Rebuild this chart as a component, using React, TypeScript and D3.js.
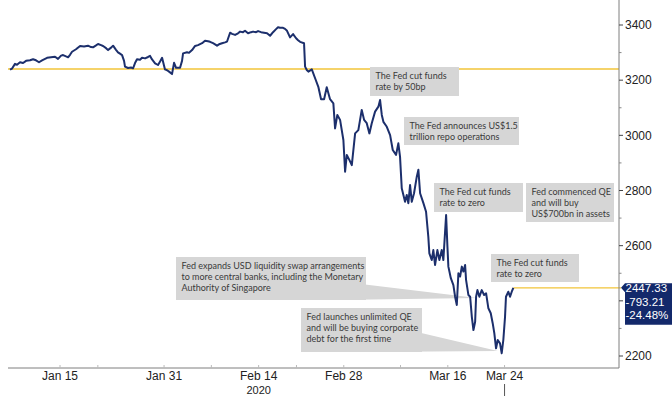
import React from 'react';
import * as d3 from 'd3';

// S&P 500 intraday path, Jan 8 – Mar 24 2020 (session index = trading day counted from Jan 8)
const sessionIdx = [
  -0.29, -0.07, 0.24, 0.45, 0.77, 1.09, 1.41, 1.83, 2.15, 2.46, 2.78, 3.10, 3.63, 4.05, 4.47, 4.79,
  5.11, 5.32, 5.64, 5.85, 6.06, 6.27, 6.69, 7.12, 7.54, 7.96, 8.28, 8.49, 8.81, 9.02, 9.34, 9.55,
  9.87, 10.08, 10.40, 10.61, 10.92, 11.13, 11.34, 11.56, 11.77, 11.87, 12.19, 12.51, 12.72, 12.93,
  13.14, 13.46, 13.67, 13.99, 14.31, 14.52, 14.73, 15.05, 15.36, 15.58, 15.79, 16.00, 16.10, 16.32,
  16.53, 16.84, 17.06, 17.27, 17.69, 17.90, 18.01, 18.43, 18.64, 18.96, 19.28, 19.59, 20.02, 20.33,
  20.65, 20.86, 21.18, 21.39, 21.60, 21.81, 22.13, 22.45, 22.66, 22.98, 23.19, 23.51, 23.82, 24.04,
  24.35, 24.56, 24.88, 25.20, 25.41, 25.73, 25.94, 26.26, 26.57, 26.89, 27.21, 27.52, 27.84, 28.05,
  28.26, 28.58, 28.79, 29.00, 29.32, 29.64, 29.96, 30.17, 30.38, 30.80, 30.91, 31.09, 31.26, 31.62,
  31.97, 32.31, 32.60, 32.92, 33.20, 33.55, 33.90, 34.08, 34.32, 34.61, 34.96, 35.14, 35.32, 35.59,
  35.85, 36.20, 36.54, 36.90, 37.15, 37.43, 37.71, 37.96, 38.31, 38.66, 38.84, 39.02, 39.19, 39.55,
  39.90, 40.18, 40.53, 40.77, 40.95, 41.13, 41.48, 41.66, 41.83, 42.01, 42.19, 42.43, 42.72, 42.89,
  43.07, 43.42, 43.70, 43.94, 44.05, 44.30, 44.47, 44.65, 44.90, 45.11, 45.36, 45.53, 45.82, 45.96,
  46.06, 46.32, 46.59, 46.77, 46.95, 47.12, 47.30, 47.48, 47.65, 47.83, 47.93, 48.18, 48.36, 48.54,
  48.71, 48.89, 48.99, 49.13, 49.34, 49.59, 49.84, 50.05, 50.29, 50.54, 50.75, 50.92, 51.10, 51.28,
  51.52, 51.70, 51.87, 52.05, 52.15, 52.40, 52.58, 52.76, 52.93,
];

const spx = [
  3238, 3242, 3259, 3256, 3265, 3262, 3270, 3272, 3276, 3272, 3265, 3272, 3281, 3283, 3285, 3277,
  3289, 3291, 3286, 3283, 3292, 3303, 3312, 3324, 3322, 3325, 3320, 3319, 3326, 3331, 3327, 3324,
  3316, 3309, 3318, 3325, 3310, 3301, 3296, 3291, 3270, 3249, 3244, 3246, 3243, 3262,
  3276, 3274, 3281, 3279, 3284, 3288, 3275, 3261, 3255, 3268, 3281, 3252, 3239, 3236,
  3231, 3222, 3263, 3245, 3245, 3270, 3297, 3301, 3299, 3309, 3324, 3327, 3334, 3343,
  3341, 3339, 3334, 3330, 3325, 3330, 3334, 3337, 3340, 3372, 3368, 3364, 3370, 3376,
  3374, 3379, 3370, 3374, 3376, 3374, 3378, 3374, 3372, 3370, 3361, 3374, 3385, 3392,
  3390, 3390, 3386, 3379, 3355, 3367, 3352, 3345, 3339, 3334, 3249, 3237, 3231, 3239,
  3207, 3176, 3131, 3131, 3174, 3131, 3116, 3025, 3074, 3056, 2983, 2868, 2929, 2911,
  2892, 3007, 3019, 3092, 3056, 3044, 3007, 3044, 3086, 3104, 3128, 3074, 3049, 3031,
  3001, 2947, 2929, 2971, 2922, 2808, 2759, 2784, 2754, 2820, 2759, 2790, 2850, 2875,
  2790, 2754, 2723, 2632, 2572, 2548, 2584, 2530, 2584, 2548, 2584, 2548, 2711, 2597,
  2524, 2482, 2457, 2415, 2385, 2500, 2488, 2524, 2506, 2530, 2476, 2421, 2415, 2342,
  2294, 2324, 2415, 2439, 2415, 2439, 2421, 2427, 2373, 2355, 2318, 2282, 2228, 2258,
  2246, 2210, 2258, 2342, 2415, 2433, 2415, 2433, 2447.33,
];

const baseLevel = 3240.54;
const lastClose = 2447.33;
const netChange = -793.21;
const pctChange = -24.48;

const yTicks = [2200, 2400, 2600, 2800, 3000, 3200, 3400];
const yMinorTicks = [2300, 2500, 2700, 2900, 3100, 3300];

const xTickDays = [5, 9, 16, 21, 26, 30, 35, 41, 46, 52];
const xLabelDays = [5, 16, 26, 35, 46, 52];
const xLabels = ['Jan 15', 'Jan 31', 'Feb 14', 'Feb 28', 'Mar 16', 'Mar 24'];
const yearLabel = '2020';
const yearLabelDay = 26;
const cursorDay = 52;

type Note = {
  lines: string[];
  x: number; y: number; w: number; h: number;
  pointer?: { t: number; v: number; bx: number; by0: number; by1: number };
};

const notes: Note[] = [
  { lines: ['The Fed cut funds', 'rate by 50bp'], x: 370, y: 67, w: 89, h: 29 },
  { lines: ['The Fed announces US$1.5', 'trillion repo operations'], x: 404, y: 117, w: 115, h: 28 },
  { lines: ['The Fed cut funds', 'rate to zero'], x: 434, y: 183, w: 89, h: 29 },
  { lines: ['Fed commenced QE', 'and will buy', 'US$700bn in assets'], x: 526, y: 183, w: 88, h: 39 },
  { lines: ['The Fed cut funds', 'rate to zero'], x: 491, y: 254, w: 88, h: 28 },
  {
    lines: ['Fed expands USD liquidity swap arrangements', 'to more central banks, including the Monetary', 'Authority of Singapore'],
    x: 176, y: 257, w: 190, h: 43,
    pointer: { t: 49.1, v: 2410, bx: 336, by0: 281, by1: 300 },
  },
  {
    lines: ['Fed launches unlimited QE', 'and will be buying corporate', 'debt for the first time'],
    x: 301, y: 308, w: 121, h: 44,
    pointer: { t: 51.28, v: 2218, bx: 400, by0: 328, by1: 351.7 },
  },
];

const W = 672;
const H = 396;
const plotLeft = 8;
const plotRight = 619;
const plotBottom = 368;

export default function App() {
  const x = d3.scaleLinear().domain([-0.5, 64.1]).range([plotLeft, plotRight]);
  const y = d3.scaleLinear().domain([2200, 3400]).range([356, 25]);

  const line = d3
    .line<number>()
    .x((_, i) => x(sessionIdx[i]))
    .y((d) => y(d))
    .curve(d3.curveLinear);

  const lastX = x(sessionIdx[sessionIdx.length - 1]);
  const lastY = y(lastClose);
  const axisFont = '"Liberation Sans", Arial, sans-serif';
  const noteFont = 'Lato, "Open Sans", sans-serif';
  const tagTop = lastY - 4.5;
  const tagBottom = lastY + 37;
  // axis labels that sit under the last-value tag are hidden by it
  const visibleYTicks = yTicks.filter((t) => y(t) + 5 < tagTop || y(t) - 5 > tagBottom);

  return (
    <svg
      width={W}
      height={H}
      style={{ position: 'absolute', left: 0, top: 0, background: '#fff' }}
    >
      <rect x={0} y={0} width={W} height={H} fill="#fff" />

      {/* baseline level */}
      <line x1={plotLeft} x2={plotRight} y1={y(baseLevel)} y2={y(baseLevel)} stroke="#f2c438" strokeWidth={1.6} />

      {/* annotations */}
      {notes.map((n, i) => (
        <g key={i}>
          {n.pointer && (
            <polygon
              points={`${n.pointer.bx},${n.pointer.by0} ${x(n.pointer.t)},${y(n.pointer.v)} ${n.pointer.bx},${n.pointer.by1}`}
              fill="#d6d6d6"
            />
          )}
          <rect x={n.x} y={n.y} width={n.w} height={n.h} fill="#d6d6d6" />
          {n.lines.map((l, j) => (
            <text
              key={j}
              x={n.x + 5.5}
              y={n.y + 11.5 + j * 11}
              fontFamily={noteFont}
              fontSize={9}
              fill="#3a3a3a"
            >
              {l}
            </text>
          ))}
        </g>
      ))}

      {/* last price line */}
      <line x1={lastX} x2={plotRight + 2} y1={lastY} y2={lastY} stroke="#f2c438" strokeWidth={1.2} />

      {/* price line */}
      <path d={line(spx) || ''} fill="none" stroke="#1c2f6c" strokeWidth={2} strokeLinejoin="round" />

      {/* axes */}
      <line x1={plotRight} x2={plotRight} y1={0} y2={plotBottom} stroke="#7f7f7f" strokeWidth={1} />
      <line x1={plotLeft} x2={plotRight} y1={plotBottom} y2={plotBottom} stroke="#7f7f7f" strokeWidth={1} />

      {yTicks.map((t) => (
        <line key={`t${t}`} x1={plotRight} x2={plotRight + 4} y1={y(t)} y2={y(t)} stroke="#444" strokeWidth={1} />
      ))}
      {visibleYTicks.map((t) => (
        <text key={t} x={plotRight + 6} y={y(t) + 4.3} fontFamily={axisFont} fontSize={12} fill="#222">
          {t}
        </text>
      ))}
      {yMinorTicks.map((t) => (
        <line key={t} x1={plotRight} x2={plotRight + 2.5} y1={y(t)} y2={y(t)} stroke="#888" strokeWidth={1} />
      ))}

      {xTickDays.map((d) => (
        <line key={d} x1={x(d)} x2={x(d)} y1={plotBottom} y2={plotBottom - 3} stroke="#bbb" strokeWidth={1} />
      ))}
      {xLabelDays.map((d, i) => (
        <text key={d} x={x(d)} y={380} textAnchor="middle" fontFamily={axisFont} fontSize={12} fill="#222">
          {xLabels[i]}
        </text>
      ))}
      <text x={x(yearLabelDay)} y={393.5} textAnchor="middle" fontFamily={axisFont} fontSize={11} fill="#222">
        {yearLabel}
      </text>
      <line x1={x(cursorDay)} x2={x(cursorDay)} y1={384} y2={396} stroke="#555" strokeWidth={1} />

      {/* last value tag */}
      <polygon
        points={`${plotRight + 2},${lastY} ${plotRight + 6},${tagTop} ${W},${tagTop} ${W},${tagBottom} ${plotRight + 6},${tagBottom} ${plotRight + 6},${lastY + 4.5}`}
        fill="#13296b"
      />
      {[lastClose.toFixed(2), netChange.toFixed(2), `${pctChange.toFixed(2)}%`].map((s, i) => (
        <text key={i} x={plotRight + 6.5} y={lastY + 4.5 + i * 13.5} fontFamily={axisFont} fontSize={11.5} fill="#fff">
          {s}
        </text>
      ))}
    </svg>
  );
}
